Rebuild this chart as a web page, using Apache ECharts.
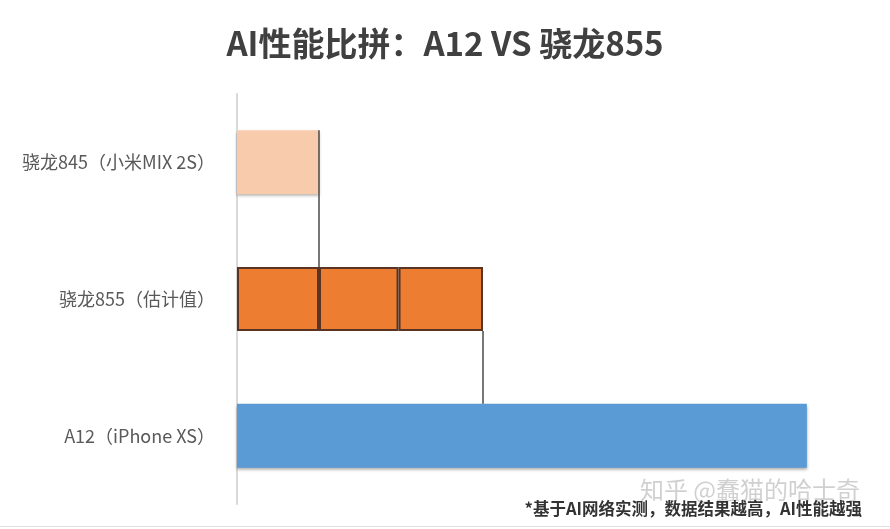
<!DOCTYPE html>
<html>
<head>
<meta charset="utf-8">
<script src="https://cdn.jsdelivr.net/npm/echarts@6/dist/echarts.min.js"></script>
<style>html,body{margin:0;padding:0;background:#fff}#c{width:890px;height:529px}</style>
</head>
<body>
<div id="c"></div>
<script>
const titleText = 'AI性能比拼：A12 VS 骁龙855';
const categories = ['骁龙845（小米MIX 2S）', '骁龙855（估计值）', 'A12（iPhone XS）'];
// relative AI performance (845 = 1)
const values = [1, 3, 6.95];
// the 855 bar is drawn as three blocks of roughly one 845 each
const segments855 = [1, 0.97, 1.03];
const footnote = '*基于AI网络实测，数据结果越高，AI性能越强';
const watermark = '知乎 @蠢猫的哈士奇';
// connectors: [x value, category index, start at bar top (1) or bottom (0)]
const connectors = [[values[0], 0, 1], [values[1], 1, 0]];

const FONT = '"Noto Sans CJK SC", "Noto Sans", sans-serif';
const BAR_W = 64;
const peach = '#F8CBAD', orange = '#ED7D31', blue = '#5B9BD5', brown = '#5a3422';

const chart = echarts.init(document.getElementById('c'));
const seg = (i) => categories.map((c, k) => k === 1 ? {
  value: segments855[i],
  itemStyle: { color: orange, borderColor: brown, borderWidth: 2 }
} : '-');

const first = categories.map((c, k) => {
  if (k === 0) return { value: values[0], itemStyle: { color: peach, shadowColor: 'rgba(0,0,0,0.35)', shadowBlur: 3, shadowOffsetY: 2 } };
  if (k === 1) return { value: segments855[0], itemStyle: { color: orange, borderColor: brown, borderWidth: 2 } };
  return { value: values[2], itemStyle: { color: blue, shadowColor: 'rgba(0,0,0,0.35)', shadowBlur: 3, shadowOffsetY: 2 } };
});

chart.setOption({
  backgroundColor: '#fff',
  animation: false,
  title: {
    text: titleText, left: 'center', top: 22,
    textStyle: { fontFamily: FONT, fontSize: 33, fontWeight: 'bold', color: '#404040' }
  },
  grid: { left: 237, right: 38, top: 94, bottom: 25, containLabel: false },
  xAxis: { type: 'value', min: 0, max: 7.5, show: false },
  yAxis: {
    type: 'category', data: categories, inverse: true,
    axisLine: { show: true, lineStyle: { color: '#d9d9d9', width: 2 } },
    axisTick: { show: false },
    axisLabel: { margin: 22, fontFamily: FONT, fontSize: 18, color: '#595959' }
  },
  series: [
    { type: 'bar', stack: 's', barWidth: BAR_W, data: first },
    { type: 'bar', stack: 's', barWidth: BAR_W, data: seg(1) },
    { type: 'bar', stack: 's', barWidth: BAR_W, data: seg(2) },
    {
      type: 'custom', z: 10, data: connectors,
      renderItem: function (params, api) {
        const x = api.value(0), idx = api.value(1), fromTop = api.value(2);
        const p = api.coord([x, idx]);
        const q = api.coord([x, idx + 1]);
        const y1 = fromTop ? p[1] - BAR_W / 2 : p[1] + BAR_W / 2;
        const y2 = q[1] - BAR_W / 2;
        return { type: 'line', shape: { x1: p[0], y1: y1, x2: p[0], y2: y2 },
          style: { stroke: '#4a4a4a', lineWidth: 1.5 } };
      }
    }
  ],
  graphic: [
    { type: 'text', right: 30, top: 478, z: 5,
      style: { text: watermark, font: '24px ' + FONT, fill: 'rgba(150,150,150,0.45)' } },
    { type: 'text', right: 28, top: 500, z: 6,
      style: { text: footnote, font: 'bold 16.5px ' + FONT, fill: '#333' } },
    { type: 'rect', left: 0, top: 526, shape: { width: 890, height: 1 }, style: { fill: '#e0e0e0' } }
  ]
});
</script>
</body>
</html>
